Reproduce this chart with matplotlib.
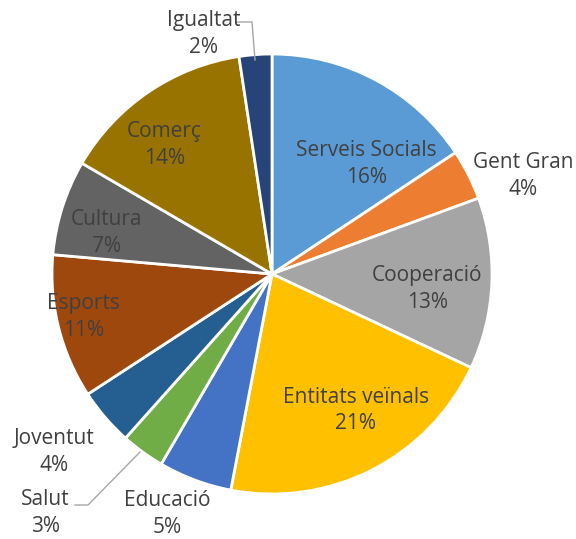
import numpy as np
import matplotlib.pyplot as plt

# slices, clockwise from 12 o'clock
categories = [
    "Serveis Socials",
    "Gent Gran",
    "Cooperació",
    "Entitats veïnals",
    "Educació",
    "Salut",
    "Joventut",
    "Esports",
    "Cultura",
    "Comerç",
    "Igualtat",
]
# shares (percent)
shares = [15.7, 3.7, 12.6, 21.0, 5.4, 3.2, 4.2, 10.6, 7.0, 14.2, 2.4]
pct_labels = ["16%", "4%", "13%", "21%", "5%", "3%", "4%", "11%", "7%", "14%", "2%"]

colors = [
    "#5B9BD5", "#ED7D31", "#A5A5A5", "#FFC000", "#4472C4", "#70AD47",
    "#255E91", "#9E480E", "#636363", "#997300", "#264478",
]

# label centres in units of the pie radius (best-fit layout as in the source)
label_pos = [
    (0.43, 0.50), (1.14, 0.445), (0.705, -0.068), (0.38, -0.62),
    (-0.477, -1.09), (-1.03, -1.085), (-0.99, -0.81), (-0.855, -0.195),
    (-0.75, 0.186), (-0.49, 0.586), (-0.31, 1.09),
]

W, H = 576, 539
cx, cy, R = 272, 274, 220

fig = plt.figure(figsize=(W / 100, H / 100), dpi=100)
ax = fig.add_axes([0, 0, 1, 1])

ax.pie(
    shares,
    colors=colors,
    startangle=90,
    counterclock=False,
    radius=1.0,
    wedgeprops=dict(edgecolor="white", linewidth=2),
)
ax.set_xlim(-cx / R, (W - cx) / R)
ax.set_ylim(-(H - cy) / R, cy / R)
ax.set_aspect("equal")
ax.axis("off")

for name, pct, (x, y) in zip(categories, pct_labels, label_pos):
    ax.text(x, y, f"{name}\n{pct}", ha="center", va="center",
            fontsize=15, color="#404040", linespacing=1.35,
            family="Open Sans")

# leader lines for the two thin slices
ax.plot([(236 - cx) / R, (252 - cx) / R, (255 - cx) / R],
        [(cy - 22) / R, (cy - 22) / R, (cy - 60) / R],
        color="#A6A6A6", lw=1)
ax.plot([(75 - cx) / R, (88 - cx) / R, (140 - cx) / R],
        [(cy - 505) / R, (cy - 505) / R, (cy - 452) / R],
        color="#A6A6A6", lw=1)

fig.savefig("out.png", dpi=100)
